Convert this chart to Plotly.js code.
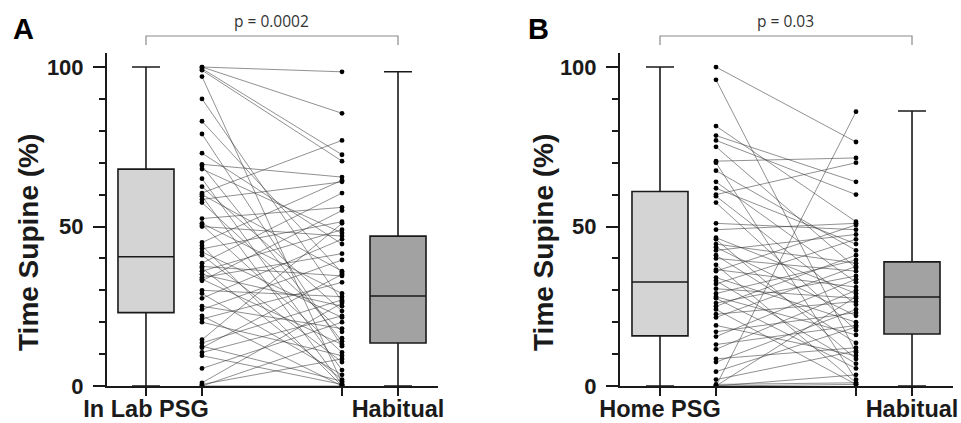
<!DOCTYPE html>
<html><head><meta charset="utf-8">
<script src="https://cdn.plot.ly/plotly-3.0.1.min.js"></script>
<style>html,body{margin:0;padding:0;background:#fff}#chart{width:961px;height:423px}</style>
</head><body><div id="chart"></div>
<script>
// ---------- DATA ----------
const panelALabels = ["In Lab PSG", "Habitual"];
const panelBLabels = ["Home PSG", "Habitual"];
const pValues = ["p = 0.0002", "p = 0.03"];
const yTitle = "Time Supine (%)";
const panelLetters = ["A", "B"];

// box statistics: [min, q1, median, q3, max]
const labPSGBox      = [0, 23, 40.5, 68, 100];
const labHabitualBox = [0, 13.5, 28.2, 47, 98.5];
const homePSGBox     = [0, 15.7, 32.6, 61, 100];
const homeHabitualBox= [0, 16.3, 27.9, 38.9, 86.2];

// paired individual values (same order = same participant)
const labPSG = [100,100,99.5,99,97,90,83,79,73,69.5,69,68,65,62.5,60.5,60,59.5,58.5,57.5,52.5,51,50.5,50,45,44,43,42,41,38.5,37.5,37,36,35,34,33.5,33,30,29,27.5,25,24,22,21,20,14.5,13.5,12.5,12,10.5,9.5,5.5,1,0.5,0,0];
const labHabitual = [98.5,85.5,72.5,70.5,1,26.5,35.5,12.5,44.5,65.5,14,48,5,23.5,77,36,0.5,64,17,56,29,10.5,47,64.5,0,51.5,21.5,7.5,60.5,34.5,2,49,25,41.5,13,55,28,3.5,46,18,39.5,0,32.5,9.5,51,27,1.5,35,22,0.5,20,26,8.5,15,0];
const homePSG = [100,96,81.5,78.5,77,75,70.5,70,67.5,64,62,60,59.5,57.5,51,49,46.5,46,44.5,43.5,42.5,41,40,38,36.5,36,34,33,32,30.5,29,28,27.5,26,25,24,22.5,21.5,19,17,15.5,13,11.5,8.5,7.5,4.5,2,0.5,0,0,0,0];
const homeHabitual = [76.5,10.5,51.5,64,60,37,71.5,2,42.5,32.5,44.5,70,25.5,17.5,49,51,29,8.5,38.5,22,47.5,13.5,36,1,31,50.5,20,7,46,27.5,39.5,16,5.5,34.5,41,0.5,26.5,37.5,9.5,23,33.5,19,30,12,24,18.5,11,1,86,28,3.5,0.5];

// ---------- LAYOUT CONSTANTS ----------
const W = 961, H = 423;
const POS = [0, 1, 3.5, 4.5]; // box1, dots1, dots2, box2
const FONT = "Liberation Sans, Arial, Helvetica, sans-serif";
const INK = "#1a1a1a";

const panels = [
  {xa:'x', ya:'y', xdom:[107/W, 438/W], xr:[-0.696, 5.214], labels:panelALabels, boxes:[labPSGBox, labHabitualBox], pre:labPSG, post:labHabitual, p:pValues[0], letter:panelLetters[0], letterX:23, titleX:28},
  {xa:'x2', ya:'y2', xdom:[620/W, 953/W], xr:[-0.714, 5.232], labels:panelBLabels, boxes:[homePSGBox, homeHabitualBox], pre:homePSG, post:homeHabitual, p:pValues[1], letter:panelLetters[1], letterX:538, titleX:543}
];
const ydom = [37/H, 370/H];
const yr = [0, 104.4];
const fills = ['#d4d4d4', '#a2a2a2'];

const traces = [];
const shapes = [];
const annotations = [];
const layout = {
  width: W, height: H, margin: {l:0, r:0, t:0, b:0},
  paper_bgcolor: '#fff', plot_bgcolor: 'rgba(0,0,0,0)', showlegend: false,
  font: {family: FONT, color: INK},
  shapes: shapes, annotations: annotations
};

panels.forEach((P, i) => {
  // boxes
  [0, 1].forEach(k => {
    const b = P.boxes[k];
    traces.push({
      type: 'box', orientation: 'v', xaxis: P.xa, yaxis: P.ya,
      x: [k === 0 ? POS[0] : POS[3]],
      lowerfence: [b[0]], q1: [b[1]], median: [b[2]], q3: [b[3]], upperfence: [b[4]],
      width: 1.0, whiskerwidth: 0.5, boxpoints: false,
      fillcolor: fills[k], line: {color: INK, width: 1.6}, hoverinfo: 'skip'
    });
  });
  // paired lines
  const lx = [], ly = [];
  P.pre.forEach((v, j) => { lx.push(POS[1], POS[2], null); ly.push(v, P.post[j], null); });
  traces.push({type:'scatter', mode:'lines', xaxis:P.xa, yaxis:P.ya, x:lx, y:ly,
    line:{color:'rgba(50,50,50,0.6)', width:0.9}, hoverinfo:'skip'});
  // dots
  traces.push({type:'scatter', mode:'markers', xaxis:P.xa, yaxis:P.ya,
    x: P.pre.map(() => POS[1]).concat(P.post.map(() => POS[2])),
    y: P.pre.concat(P.post),
    marker:{size:4.8, color:'#000'}, cliponaxis:false, hoverinfo:'skip'});

  const xkey = i === 0 ? 'xaxis' : 'xaxis2';
  const ykey = i === 0 ? 'yaxis' : 'yaxis2';
  layout[xkey] = {
    domain: P.xdom, range: P.xr, anchor: P.ya,
    tickmode: 'array', tickvals: POS, ticktext: [P.labels[0], '', '', P.labels[1]],
    ticks: 'outside', ticklen: 8, tickwidth: 2, tickcolor: INK,
    showline: true, linewidth: 2, linecolor: INK, showgrid: false, zeroline: false,
    tickfont: {family: FONT, size: 23.5, color: INK, weight: 'bold'},
    ticklabelstandoff: -7, fixedrange: true
  };
  layout[ykey] = {
    domain: ydom, range: yr, anchor: P.xa,
    tickmode: 'array', tickvals: [0, 50, 100],
    ticks: 'outside', ticklen: 12, tickwidth: 2, tickcolor: INK,
    minor: {tickmode: 'array', tickvals: [10,20,30,40,60,70,80,90], ticks: 'outside', ticklen: 6, tickwidth: 2, tickcolor: INK},
    showline: true, linewidth: 2, linecolor: INK, showgrid: false, zeroline: false,
    tickfont: {family: FONT, size: 22, color: INK, weight: 'bold'},
    ticklabelstandoff: 5, fixedrange: true
  };

  // bracket with p value (positions derived from the axis mapping)
  const toPaper = v => P.xdom[0] + (v - P.xr[0]) / (P.xr[1] - P.xr[0]) * (P.xdom[1] - P.xdom[0]);
  const xa0 = toPaper(POS[0]), xa1 = toPaper(POS[3]);
  const yTop = 1 - 36/H, yEnd = 1 - 45/H;
  shapes.push({type:'path', xref:'paper', yref:'paper',
    path: `M ${xa0} ${yEnd} L ${xa0} ${yTop} L ${xa1} ${yTop} L ${xa1} ${yEnd}`,
    line:{color:'#8a8a8a', width:1.2}});
  annotations.push({xref:'paper', yref:'paper', x:(xa0+xa1)/2, y:1-21/H, text:P.p, showarrow:false,
    font:{family:"Open Sans, Liberation Sans, sans-serif", size:15.5, color:'#333'}, xanchor:'center', yanchor:'middle'});
  // panel letter
  annotations.push({xref:'paper', yref:'paper', x:P.letterX/W, y:1-29/H, text:P.letter, showarrow:false,
    font:{family:FONT, size:29, color:'#000', weight:'bold'}, xanchor:'center', yanchor:'middle'});
  // y title
  annotations.push({xref:'paper', yref:'paper', x:P.titleX/W, y:1-243/H, text:yTitle, showarrow:false, textangle:-90,
    font:{family:FONT, size:28, color:INK, weight:'bold'}, xanchor:'center', yanchor:'middle'});
});

Plotly.newPlot('chart', traces, layout, {displayModeBar:false, staticPlot:true});
</script>
</body></html>
